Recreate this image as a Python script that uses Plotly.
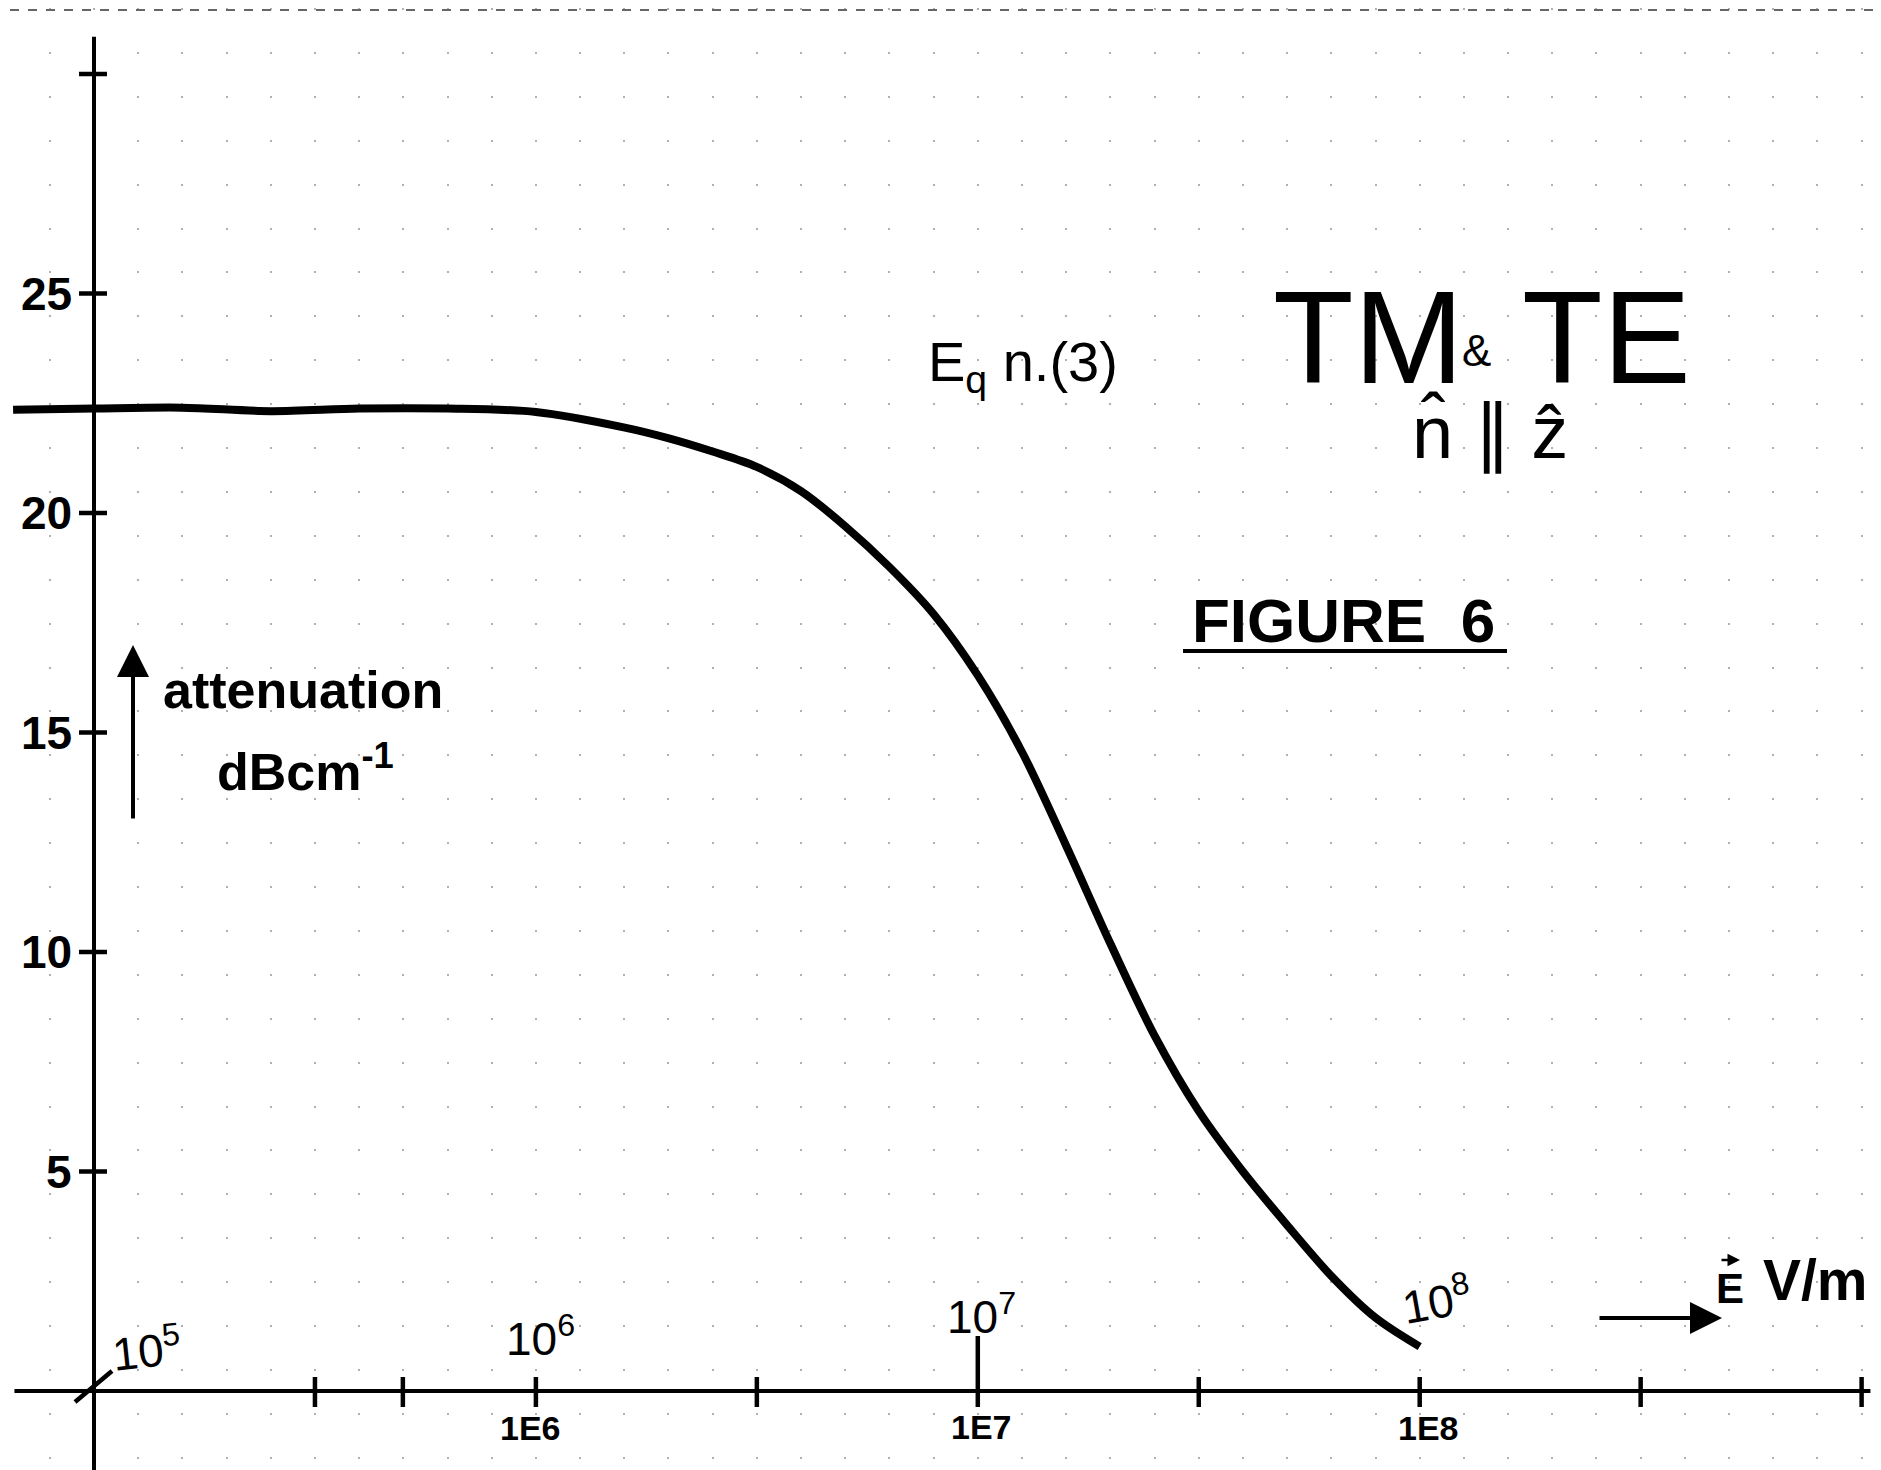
import numpy as np
import plotly.graph_objects as go

# ---------------- data ----------------
E_field = [6.56e4, 1.0e5, 1.58e5, 2.51e5, 3.98e5, 6.31e5, 1.0e6, 1.58e6, 2.0e6,
           2.51e6, 3.16e6, 3.98e6, 5.01e6, 6.31e6, 7.94e6, 1.0e7, 1.26e7, 1.58e7,
           2.0e7, 2.51e7, 3.16e7, 3.98e7, 5.01e7, 6.31e7, 7.94e7, 1.0e8]
attenuation = [22.35, 22.38, 22.40, 22.32, 22.38, 22.38, 22.30, 21.95, 21.70,
               21.40, 21.05, 20.50, 19.70, 18.77, 17.70, 16.30, 14.55, 12.45,
               10.17, 8.10, 6.38, 5.00, 3.78, 2.62, 1.67, 1.01]

y_ticks = [5, 10, 15, 20, 25, 30]
y_tick_labels = ["5", "10", "15", "20", "25", ""]
x_decades = [1e5, 1e6, 1e7, 1e8]
x_top_labels = ["10<sup>5</sup>", "10<sup>6</sup>", "10<sup>7</sup>", "10<sup>8</sup>"]
x_bottom_ticks = [1e6, 1e7, 1e8]
x_bottom_labels = ["1E6", "1E7", "1E8"]
x_minor_ticks = [10 ** 5.5, 5e5, 10 ** 6.5, 10 ** 7.5, 10 ** 8.5, 1e9]

# ---------------- geometry / style ----------------
W, H = 1881, 1470
OFF = 8                        # default page margin of the html body
PX_PER_DEC = 441.9
PX_PER_UNIT = 43.9
X0 = 5 - (94 - OFF) / PX_PER_DEC          # log10 value at the left edge
X_RANGE = [X0, X0 + W / PX_PER_DEC]
Y_TOP = (1391 - OFF) / PX_PER_UNIT
Y_RANGE = [Y_TOP - H / PX_PER_UNIT, Y_TOP]
INK = "black"
FONT = "Liberation Sans"


def px(x):
    return (x - OFF) / W


def py(y):
    return 1 - (y - OFF) / H


def dx(pixels):
    return 10 ** (pixels / PX_PER_DEC)


def dy(pixels):
    return pixels / PX_PER_UNIT


fig = go.Figure()

# main curve
fig.add_trace(go.Scatter(x=E_field, y=attenuation, mode="lines",
                         line=dict(color=INK, width=8, shape="spline", smoothing=0.9),
                         hoverinfo="skip", showlegend=False))

# hand-drawn axes
x_start, x_end = 10 ** 4.82, 10 ** 9.02
fig.add_trace(go.Scatter(x=[x_start, x_end], y=[0, 0], mode="lines",
                         line=dict(color=INK, width=4), hoverinfo="skip", showlegend=False))
fig.add_trace(go.Scatter(x=[1e5, 1e5], y=[Y_RANGE[0], 30.85], mode="lines",
                         line=dict(color=INK, width=4), hoverinfo="skip", showlegend=False))

# y tick marks
tx, ty = [], []
for v in y_ticks:
    tx += [1e5 / dx(15), 1e5 * dx(13), None]
    ty += [v, v, None]
# x tick marks (crossing the axis)
for v in x_minor_ticks + x_bottom_ticks:
    up = 55 if v == 1e7 else 14
    tx += [v, v, None]
    ty += [dy(-16), dy(up), None]
# slash at origin
tx += [1e5 / dx(19), 1e5 * dx(18), None]
ty += [dy(-11), dy(20), None]
fig.add_trace(go.Scatter(x=tx, y=ty, mode="lines", line=dict(color=INK, width=4.5),
                         hoverinfo="skip", showlegend=False, connectgaps=False))

ann = []


def txt(s, x, y, size, bold=False, angle=0, xanchor="center", family=FONT):
    ann.append(dict(text=f"<b>{s}</b>" if bold else s, x=px(x), y=py(y),
                    xref="paper", yref="paper", showarrow=False,
                    xanchor=xanchor, yanchor="middle", textangle=angle,
                    font=dict(family=family, size=size, color=INK)))


# y tick labels
for v, lab in zip(y_ticks, y_tick_labels):
    if lab:
        ann.append(dict(text=f"<b>{lab}</b>", x=px(74), y=v, xref="paper", yref="y",
                        showarrow=False, xanchor="right", yanchor="middle",
                        font=dict(family=FONT, size=46, color=INK)))

# decade labels above the axis
top_pos = [(146, 1348, -6), (540, 1336, 0), (982, 1314, 0), (1436, 1299, -10)]
for lab, (x, y, a) in zip(x_top_labels, top_pos):
    txt(lab, x, y, 46, angle=a)

# 1E labels below
bot_pos = [(530, 1428), (982, 1427), (1428, 1428)]
for lab, (x, y) in zip(x_bottom_labels, bot_pos):
    txt(lab, x, y, 34, bold=True)

# annotations
txt("E<sub>q</sub> n.(3)", 1023, 366, 56)
txt("TM", 1368, 337, 132)
txt("&", 1476, 350, 44)
txt("TE", 1606, 337, 132)
txt("n\u0302 \u2225 z\u0302", 1490, 432, 74)
txt("<b>FIGURE  6</b>", 1343, 620, 62)
txt("<b>attenuation</b>", 303, 690, 52)
txt("<b>dBcm<sup>-1</sup></b>", 305, 768, 52)
txt("<b>E</b>", 1730, 1288, 42)
txt("<b>V/m</b>", 1815, 1280, 57)

# arrows
ann.append(dict(x=px(133), y=py(645), xref="paper", yref="paper", ax=0, ay=175,
                axref="pixel", ayref="pixel", text="", showarrow=True,
                arrowhead=2, arrowsize=1.6, arrowwidth=4, arrowcolor=INK))
ann.append(dict(x=px(1722), y=py(1318), xref="paper", yref="paper", ax=-124, ay=0,
                axref="pixel", ayref="pixel", text="", showarrow=True,
                arrowhead=2, arrowsize=1.6, arrowwidth=4, arrowcolor=INK))
# small vector arrow over E
ann.append(dict(x=px(1740), y=py(1260), xref="paper", yref="paper", ax=-20, ay=0,
                axref="pixel", ayref="pixel", text="", showarrow=True,
                arrowhead=2, arrowsize=1.0, arrowwidth=2.5, arrowcolor=INK))

shapes = [
    # underline of FIGURE 6
    dict(type="line", xref="paper", yref="paper", x0=px(1183), x1=px(1507),
         y0=py(651), y1=py(651), line=dict(color=INK, width=4)),
    # scan edge at the top
    dict(type="line", xref="paper", yref="paper", x0=px(10), x1=px(1880),
         y0=py(10), y1=py(10), line=dict(color="#666666", width=2, dash="dash")),
]

fig.update_layout(
    width=W, height=H,
    margin=dict(l=0, r=0, t=0, b=0),
    paper_bgcolor="white", plot_bgcolor="white",
    showlegend=False,
    annotations=ann, shapes=shapes,
    xaxis=dict(type="log", range=X_RANGE, showticklabels=False, ticks="",
               showline=False, zeroline=False, showgrid=True,
               tick0=5, dtick=0.1, gridcolor="#b0b0b0", gridwidth=2,
               griddash="2px,41.9px", fixedrange=True),
    yaxis=dict(range=Y_RANGE, showticklabels=False, ticks="", showline=False,
               zeroline=False, showgrid=False, fixedrange=True),
)

fig.write_html("out.html")
